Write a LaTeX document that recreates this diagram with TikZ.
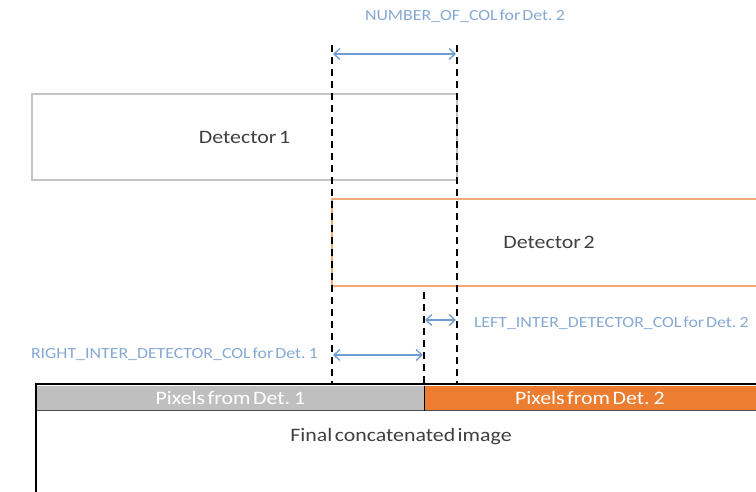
\documentclass[tikz,border=0pt]{standalone}
\usepackage{fontspec}
\setmainfont[FakeStretch=1.15, WordSpace=0.5]{Carlito}
\usetikzlibrary{arrows.meta}
\definecolor{dimblue}{HTML}{6F9DD3}
\definecolor{labblue}{HTML}{86A9D4}
\definecolor{boxgray}{HTML}{C4C4C4}
\definecolor{pixgray}{HTML}{BFBFBF}
\definecolor{pixorange}{HTML}{ED7D31}
\definecolor{detorange}{HTML}{F2A877}
\definecolor{txtgray}{HTML}{404040}
\tikzset{
  every node/.style={inner sep=0pt, outer sep=0pt},
  mainfont/.style={font=\fontsize{19}{21}\selectfont},
  detbox/.style={draw, line width=1.4pt, anchor=north west, text=txtgray, mainfont},
  pixbox/.style={anchor=north west, text=white, mainfont},
  guide/.style={draw=black, line width=1.6pt, dash pattern=on 7pt off 5pt},
  dimarrow/.style={draw=dimblue, line width=1.3pt, {Straight Barb[length=6pt,width=11pt]}-{Straight Barb[length=6pt,width=11pt]}},
  dimlabel/.style={text=labblue, font=\fontsize{15.5}{17}\selectfont},
}
\begin{document}
\begin{tikzpicture}[x=1pt,y=-1pt]
\clip (0,0) rectangle (756,492);
\fill[white] (0,0) rectangle (756,492);
% detectors
\node[detbox, draw=boxgray, minimum width=425pt, minimum height=86pt] (det1) at (32,94) {Detector 1};
\node[detbox, draw=detorange, minimum width=434pt, minimum height=87pt] (det2) at (332,199) {Detector 2};
% final image
\node[anchor=north west, draw=black, line width=2.5pt, minimum width=730pt, minimum height=120pt] (final) at (36,384) {};
\node[pixbox, fill=pixgray, minimum width=387pt, minimum height=25pt] (pix1) at (37,385.5) {Pixels from Det. 1};
\node[pixbox, fill=pixorange, minimum width=332pt, minimum height=25pt] (pix2) at (424,385.5) {Pixels from Det. 2};
\draw[black!70, line width=0.8pt] (pix1.south west) -- (pix2.south east);
\draw[black, line width=0.6pt] (pix1.north east) -- (pix1.south east);
\node[text=txtgray, mainfont] (finaltxt) at (401,437) {Final concatenated image};
% guide lines
\coordinate (gAtop) at (332,45);
\coordinate (gAbot) at (332,383);
\coordinate (gBtop) at (457,45);
\coordinate (gBbot) at (457,383);
\coordinate (gCtop) at (424,292);
\coordinate (gCbot) at (424,383);
\draw[guide] (gAtop) -- (gAbot);
\draw[guide] (gBtop) -- (gBbot);
\draw[guide] (gCtop) -- (gCbot);
% dimension arrows
\coordinate (nA) at (333,54);
\coordinate (nB) at (456,54);
\draw[dimarrow] (nA) -- (nB);
\node[dimlabel] (numlab) at (465,16) {NUMBER\_OF\_COL for Det. 2};
\coordinate (lA) at (425,320);
\coordinate (lB) at (456,320);
\draw[dimarrow] (lA) -- (lB);
\node[dimlabel, anchor=west] (leftlab) at (474,323) {LEFT\_INTER\_DETECTOR\_COL for Det. 2};
\coordinate (rA) at (333,355);
\coordinate (rB) at (423,355);
\draw[dimarrow] (rA) -- (rB);
\node[dimlabel, anchor=east] (rightlab) at (318,354) {RIGHT\_INTER\_DETECTOR\_COL for Det. 1};
\end{tikzpicture}
\end{document}
